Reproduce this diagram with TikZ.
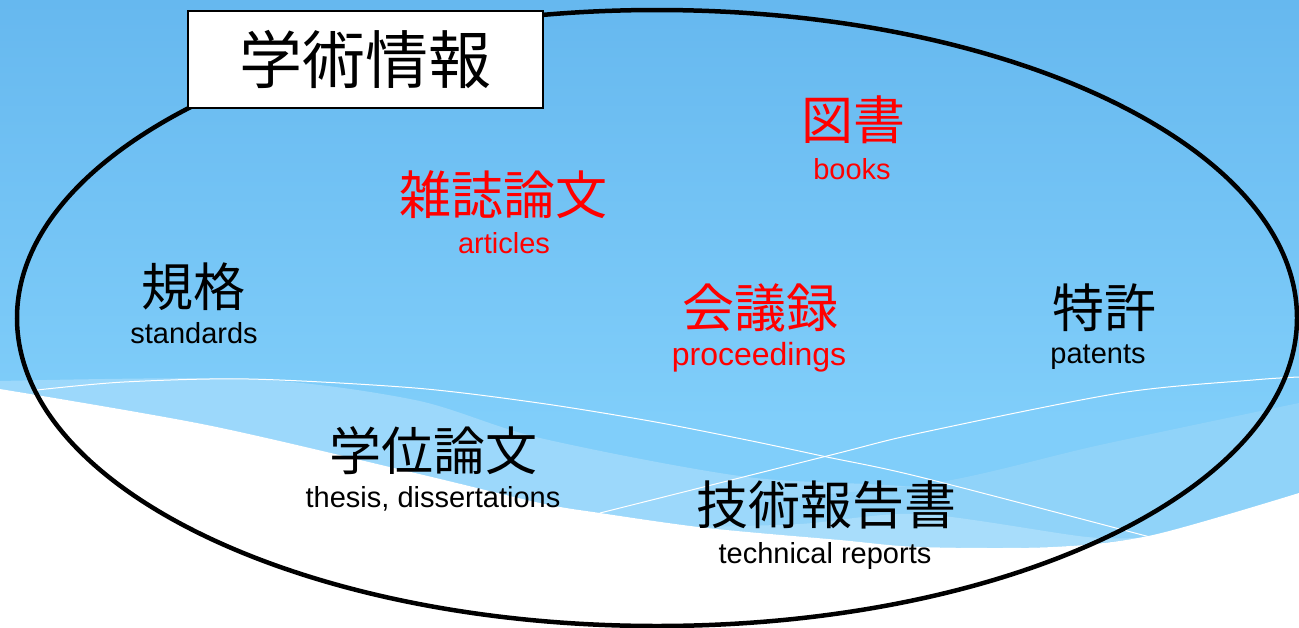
\documentclass[tikz,border=0pt]{standalone}
\usepackage{fontspec}
\setmainfont{Liberation Sans}
\newfontfamily\jpfont{Noto Sans CJK JP}
\definecolor{skytop}{HTML}{66B8EF}
\definecolor{skylow}{HTML}{80CEFA}
\definecolor{bandleft}{HTML}{9CD8FB}
\definecolor{bandright}{HTML}{90D3F9}
\definecolor{bandstrip}{HTML}{A8DDFB}
\tikzset{
  jp/.style={inner sep=0pt, font=\jpfont\fontsize{52}{60}\selectfont},
  en/.style={inner sep=0pt, font=\fontsize{29}{34}\selectfont},
  titlebox/.style={draw, fill=white, line width=1.5pt, inner sep=0pt,
    minimum width=355pt, minimum height=97pt,
    font=\jpfont\fontsize{63}{70}\selectfont},
  wave/.style={white, line width=1pt}
}
\begin{document}
\begin{tikzpicture}[x=1pt,y=-1pt]
    \useasboundingbox (0,0) rectangle (1299,627);
    \clip (0,0) rectangle (1299,627);
    % background
    \fill[skylow] (0,0) rectangle (1299,627);
    \shade[top color=skytop, bottom color=skylow] (0,0) rectangle (1299,420);
    \fill[bandleft] plot[smooth] coordinates {(0,381) (250,379) (415,400) (540,438) (747,477) (940,490) (1150,537)}
        -- plot[smooth] coordinates {(1150,537) (1053,547) (920,547) (840,540) (707,528) (600,513) (540,503) (415,473) (207,425) (0,389)} -- cycle;
    \fill[bandright] plot[smooth] coordinates {(760,500) (940,482) (1100,445) (1299,403)}
        -- (1299,493) -- plot[smooth] coordinates {(1299,493) (1153,535) (1053,547) (920,547) (840,540) (760,533)} -- cycle;
    \fill[bandstrip] plot[smooth] coordinates {(690,527) (800,524) (920,514) (1087,537) (1150,537)}
        -- plot[smooth] coordinates {(1150,537) (1053,547) (920,547) (840,540) (690,527)} -- cycle;
    \fill[white] plot[smooth] coordinates {(0,389) (207,425) (415,473) (540,503) (600,513) (707,528) (840,540) (920,547) (1053,547) (1153,535) (1299,493)}
        -- (1299,627) -- (0,627) -- cycle;
    \draw[wave] plot[smooth] coordinates {(37,390) (124,382) (249,379) (415,388) (539,403) (650,421) (747,440) (827,457) (920,477) (1150,537)};
    \draw[wave] plot[smooth] coordinates {(600,513) (827,456) (920,433) (1120,393) (1253,380) (1299,377)};
    % outline
    \draw[line width=4.5pt] (657,318) ellipse [x radius=640pt, y radius=308pt];
    \node[titlebox] (title) at (365.5,59.5) {学術情報};
    % items
    \node[jp, red] (zusho) at (853,120) {図書};
    \node[en, red] (books) at (852,169) {books};
    \node[jp, red] (zasshi) at (503,195) {雑誌論文};
    \node[en, red] (articles) at (504,243) {articles};
    \node[jp] (kikaku) at (193,287) {規格};
    \node[en] (standards) at (194,333) {standards};
    \node[jp, red] (kaigi) at (760,308) {会議録};
    \node[en, red, font=\fontsize{32}{36}\selectfont] (proc) at (759,357) {proceedings};
    \node[jp] (tokkyo) at (1104,308) {特許};
    \node[en] (patents) at (1098,357) {patents};
    \node[jp] (gakui) at (433,451) {学位論文};
    \node[en] (thesis) at (433,499) {thesis, dissertations};
    \node[jp] (gijutsu) at (826,505) {技術報告書};
    \node[en] (reports) at (825,556) {technical reports};
\end{tikzpicture}
\end{document}
